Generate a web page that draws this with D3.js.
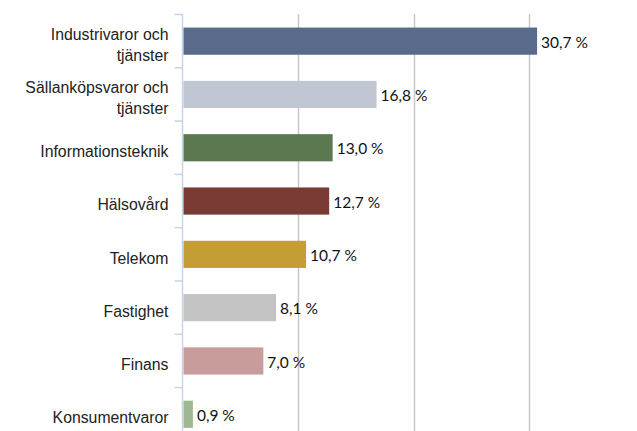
<!DOCTYPE html>
<html>
<head>
<meta charset="utf-8">
<script src="https://cdn.jsdelivr.net/npm/d3@7"></script>
<style>
  body { margin: 0; background: #fff; }
  svg { display: block; }
</style>
</head>
<body>
<div id="chart"></div>
<script>
// Data
const categories = [
    'Industrivaror och tjänster',
    'Sällanköpsvaror och tjänster',
    'Informationsteknik',
    'Hälsovård',
    'Telekom',
    'Fastighet',
    'Finans',
    'Konsumentvaror'
];
const values = [30.7, 16.8, 13.0, 12.7, 10.7, 8.1, 7.0, 0.9];
const barColors = ['#5a6a8b', '#c0c6d2', '#5c7850', '#7a3b35', '#c59d35', '#c3c3c3', '#c79c9b', '#9fb894'];
const gridTicks = [10, 20, 30];

// Two-line labels as they appear in the picture
const labelLines = {
    'Industrivaror och tjänster': ['Industrivaror och', 'tjänster'],
    'Sällanköpsvaror och tjänster': ['Sällanköpsvaror och', 'tjänster']
};

const width = 637, height = 431;
const axisX = 182.5;

const svg = d3.select('#chart')
    .append('svg')
    .attr('width', width)
    .attr('height', height);

const x = d3.scaleLinear()
    .domain([0, 40])
    .range([axisX, axisX + 462]);

const y = d3.scaleBand()
    .domain(categories)
    .range([14.5, 14.5 + 53.3 * categories.length])
    .paddingInner(0.49)
    .paddingOuter(0.245);

// Gridlines
svg.selectAll('.grid')
    .data(gridTicks)
    .enter()
    .append('line')
    .attr('class', 'grid')
    .attr('x1', d => Math.round(x(d)) + 0.5)
    .attr('x2', d => Math.round(x(d)) + 0.5)
    .attr('y1', 14)
    .attr('y2', height)
    .style('stroke', '#c8c8c8')
    .style('stroke-width', '1.5px');

// Category axis line
svg.append('line')
    .attr('x1', axisX)
    .attr('x2', axisX)
    .attr('y1', 14)
    .attr('y2', height)
    .style('stroke', '#c5d4e6')
    .style('stroke-width', '1.5px');

// Tick marks at band boundaries
const step = y.step();
const bounds = d3.range(categories.length + 1).map(i => y.range()[0] + i * step);
svg.selectAll('.tick-mark')
    .data(bounds)
    .enter()
    .append('line')
    .attr('class', 'tick-mark')
    .attr('x1', axisX - 8)
    .attr('x2', axisX)
    .attr('y1', d => d)
    .attr('y2', d => d)
    .style('stroke', '#c5d4e6')
    .style('stroke-width', '1.5px');

// Bars
svg.selectAll('.bar')
    .data(categories)
    .enter()
    .append('rect')
    .attr('class', 'bar')
    .attr('x', x(0) + 1)
    .attr('y', d => y(d))
    .attr('width', (d, i) => x(values[i]) - x(0) - 1)
    .attr('height', y.bandwidth())
    .style('fill', (d, i) => barColors[i]);

// Value labels
svg.selectAll('.value-label')
    .data(categories)
    .enter()
    .append('text')
    .attr('class', 'value-label')
    .attr('x', (d, i) => x(values[i]) + 4)
    .attr('y', d => y(d) + y.bandwidth() / 2 + 1)
    .attr('dy', '0.36em')
    .style('font-family', 'Lato, "Open Sans", sans-serif')
    .style('font-size', '15.5px')
    .style('fill', '#111')
    .text((d, i) => d3.format('.1f')(values[i]).replace('.', ',') + ' %');

// Category labels
const labels = svg.selectAll('.cat-label')
    .data(categories)
    .enter()
    .append('text')
    .attr('class', 'cat-label')
    .attr('text-anchor', 'end')
    .style('font-family', '"Liberation Sans", Arial, sans-serif')
    .style('font-size', '15.8px')
    .style('fill', '#222');

labels.each(function(d) {
    const lines = labelLines[d] || [d];
    const cy = y(d) + y.bandwidth() / 2 + 3.5;
    const lineH = 21;
    const start = cy - (lines.length - 1) * lineH / 2;
    d3.select(this).selectAll('tspan')
        .data(lines)
        .enter()
        .append('tspan')
        .attr('x', 168.5)
        .attr('y', (l, j) => start + j * lineH)
        .attr('dy', '0.36em')
        .text(l => l);
});
</script>
</body>
</html>
